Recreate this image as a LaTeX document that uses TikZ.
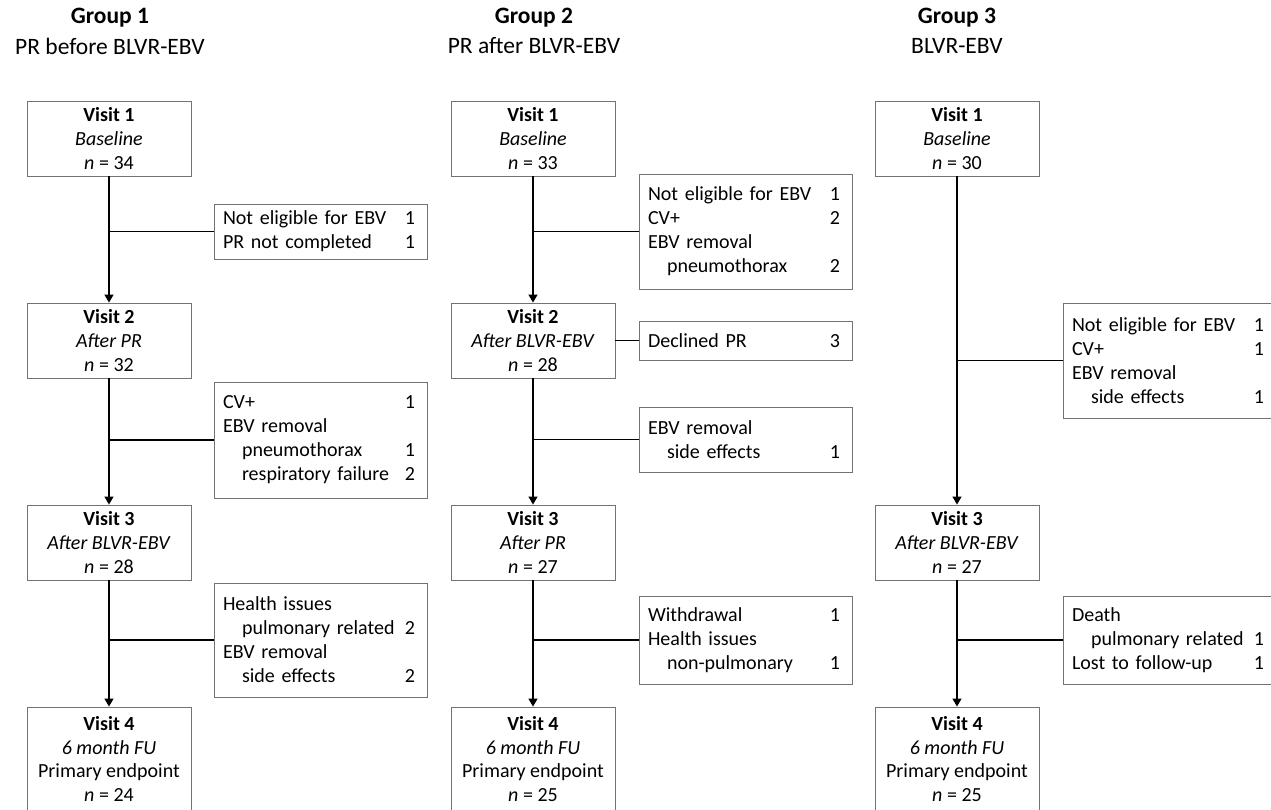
\documentclass[tikz,border=0pt]{standalone}
\usepackage{fontspec}
\setmainfont{Carlito}
\usetikzlibrary{arrows.meta}
\tikzset{
  vbox/.style={draw=black!55, line width=0.9pt, minimum width=164pt, minimum height=75pt, align=center, inner sep=0pt, font=\fontsize{20}{23.7}\selectfont},
  vboxlong/.style={vbox, minimum height=104pt},
  sbox/.style={draw=black!55, line width=0.9pt, text width=195pt, inner xsep=9pt, inner ysep=0pt, align=left, font=\fontsize{20}{24}\selectfont},
  conn/.style={line width=1.3pt, black},
  arr/.style={conn, -{Triangle[width=9pt,length=8pt]}},
  ttlbold/.style={font=\fontsize{23.5}{27}\selectfont\bfseries, inner sep=0pt},
  ttl/.style={font=\fontsize{23.5}{27}\selectfont, inner sep=0pt}
}
\newcommand\srow[2]{\makebox[\linewidth][l]{#1\hfill#2\hspace{3pt}}}
\newcommand\sind{\hspace*{19pt}}
\begin{document}
\begin{tikzpicture}[x=1pt,y=-1pt]
\useasboundingbox (0,0) rectangle (1271,809);

% ---------- titles ----------
\node[ttlbold] (t1a) at (110,18) {Group 1};
\node[ttl] (t1b) at (110,46) {PR before BLVR-EBV};
\node[ttlbold] (t2a) at (534,18) {Group 2};
\node[ttl] (t2b) at (534,46) {PR after BLVR-EBV};
\node[ttlbold] (t3a) at (957,18) {Group 3};
\node[ttl] (t3b) at (957,46) {BLVR-EBV};

% ---------- Group 1 ----------
\node[vbox] (g1v1) at (109,138.5) {\textbf{Visit 1}\\\textit{Baseline}\\\textit{n} = 34};
\node[vbox] (g1v2) at (109,340.5) {\textbf{Visit 2}\\\textit{After PR}\\\textit{n} = 32};
\node[vbox] (g1v3) at (109,542.5) {\textbf{Visit 3}\\\textit{After BLVR-EBV}\\\textit{n} = 28};
\node[vboxlong] (g1v4) at (109,759) {\textbf{Visit 4}\\\textit{6 month FU}\\Primary endpoint\\\textit{n} = 24};

\node[sbox, minimum height=55pt] (g1s1) at (320.5,231.5) {\srow{Not eligible for EBV}{1}\\\srow{PR not completed}{1}};
\node[sbox, minimum height=116pt] (g1s2) at (320.5,440) {\srow{CV+}{1}\\\srow{EBV removal}{}\\\srow{\sind pneumothorax}{1}\\\srow{\sind respiratory failure}{2}};
\node[sbox, minimum height=114pt] (g1s3) at (320.5,640) {\srow{Health issues}{}\\\srow{\sind pulmonary related}{2}\\\srow{EBV removal}{}\\\srow{\sind side effects}{2}};

\draw[arr] (g1v1.south) -- (g1v2.north);
\draw[arr] (g1v2.south) -- (g1v3.north);
\draw[arr] (g1v3.south) -- (g1v4.north);
\draw[conn] (g1s1.west) -- (g1s1.west -| g1v1.south);
\draw[conn] (g1s2.west) -- (g1s2.west -| g1v2.south);
\draw[conn] (g1s3.west) -- (g1s3.west -| g1v3.south);

% ---------- Group 2 ----------
\node[vbox] (g2v1) at (533,138.5) {\textbf{Visit 1}\\\textit{Baseline}\\\textit{n} = 33};
\node[vbox] (g2v2) at (533,340.5) {\textbf{Visit 2}\\\textit{After BLVR-EBV}\\\textit{n} = 28};
\node[vbox] (g2v3) at (533,542.5) {\textbf{Visit 3}\\\textit{After PR}\\\textit{n} = 27};
\node[vboxlong] (g2v4) at (533,759) {\textbf{Visit 4}\\\textit{6 month FU}\\Primary endpoint\\\textit{n} = 25};

\node[sbox, minimum height=115pt] (g2s1) at (745.5,231.5) {\srow{Not eligible for EBV}{1}\\\srow{CV+}{2}\\\srow{EBV removal}{}\\\srow{\sind pneumothorax}{2}};
\node[sbox, minimum height=39pt] (g2dp) at (745.5,340.5) {\srow{Declined PR}{3}};
\node[sbox, minimum height=65pt] (g2s2) at (745.5,439.5) {\srow{EBV removal}{}\\\srow{\sind side effects}{1}};
\node[sbox, minimum height=88pt] (g2s3) at (745.5,640) {\srow{Withdrawal}{1}\\\srow{Health issues}{}\\\srow{\sind non-pulmonary}{1}};

\draw[arr] (g2v1.south) -- (g2v2.north);
\draw[arr] (g2v2.south) -- (g2v3.north);
\draw[arr] (g2v3.south) -- (g2v4.north);
\draw[conn] (g2s1.west) -- (g2s1.west -| g2v1.south);
\draw[conn] (g2v2.east) -- (g2dp.west);
\draw[conn] (g2s2.west) -- (g2s2.west -| g2v2.south);
\draw[conn] (g2s3.west) -- (g2s3.west -| g2v3.south);

% ---------- Group 3 ----------
\node[vbox] (g3v1) at (957,138.5) {\textbf{Visit 1}\\\textit{Baseline}\\\textit{n} = 30};
\node[vbox] (g3v3) at (957,542.5) {\textbf{Visit 3}\\\textit{After BLVR-EBV}\\\textit{n} = 27};
\node[vboxlong] (g3v4) at (957,759) {\textbf{Visit 4}\\\textit{6 month FU}\\Primary endpoint\\\textit{n} = 25};

\node[sbox, minimum height=115pt] (g3s1) at (1169.5,360.5) {\srow{Not eligible for EBV}{1}\\\srow{CV+}{1}\\\srow{EBV removal}{}\\\srow{\sind side effects}{1}};
\node[sbox, minimum height=88pt] (g3s2) at (1169.5,640) {\srow{Death}{}\\\srow{\sind pulmonary related}{1}\\\srow{Lost to follow-up}{1}};

\draw[arr] (g3v1.south) -- (g3v3.north);
\draw[arr] (g3v3.south) -- (g3v4.north);
\draw[conn] (g3s1.west) -- (g3s1.west -| g3v1.south);
\draw[conn] (g3s2.west) -- (g3s2.west -| g3v3.south);
\end{tikzpicture}
\end{document}
